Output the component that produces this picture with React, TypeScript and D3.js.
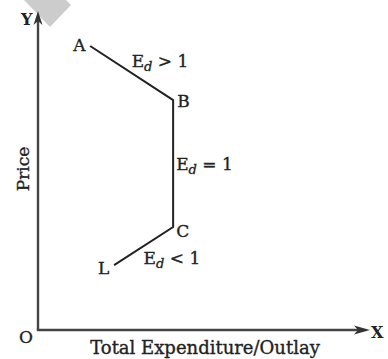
import React from "react";
import * as d3 from "d3";

const pointNames = ["A", "B", "C", "L"];
const xValues = [15.9, 41.2, 41.2, 23.2];
const yValues = [89.3, 72.3, 32.4, 20.4];
const segmentLabels = ["> 1", "= 1", "< 1"];
const xAxisTitle = "Total Expenditure/Outlay";
const yAxisTitle = "Price";

const W = 388;
const H = 359;
const FONT = "'DejaVu Serif', serif";
const INK = "#222";

export default function App() {
  const x = d3.scaleLinear().domain([0, 100]).range([38, 366]);
  const y = d3.scaleLinear().domain([0, 100]).range([330, 12]);
  const pts: [number, number][] = xValues.map((v, i) => [x(v), y(yValues[i])]);
  const line = d3.line();

  const [A, B, C, L] = pts;
  const labelOffsets = [
    [-17, 5],
    [4, 7],
    [3, 10],
    [-16, 9],
  ];
  const segPos = [
    [(A[0] + B[0]) / 2 + 0, (A[1] + B[1]) / 2 - 6],
    [B[0] + 3, (B[1] + C[1]) / 2 + 6],
    [(C[0] + L[0]) / 2 + 0, (C[1] + L[1]) / 2 + 18],
  ];
  const tx = x(100);
  const ty = y(100);
  const heavy = { stroke: INK, strokeWidth: 0.35 };

  return (
    <svg
      width={W}
      height={H}
      style={{ position: "absolute", left: 0, top: 0, background: "#fff" }}
      fontFamily={FONT}
    >
      <polygon points="24,0 66,0 71,5 50,27" fill="#ccc" />
      {/* axes */}
      <line x1={x(0)} y1={y(0)} x2={x(0)} y2={ty + 6} stroke="#444" strokeWidth={2.4} />
      <polygon
        points={`${x(0)},${ty - 1} ${x(0) - 4.5},${ty + 13} ${x(0)},${ty + 9} ${x(0) + 4.5},${ty + 13}`}
        fill="#333"
      />
      <line x1={x(0) - 1.2} y1={y(0)} x2={tx - 6} y2={y(0)} stroke="#444" strokeWidth={2.4} />
      <polygon
        points={`${tx + 4},${y(0)} ${tx - 12},${y(0) - 4.5} ${tx - 8},${y(0)} ${tx - 12},${y(0) + 4.5}`}
        fill="#333"
      />
      <text x={21} y={25} fontSize={16} fontWeight="bold" fill={INK}>Y</text>
      <text x={371} y={338} fontSize={16} fontWeight="bold" fill={INK}>X</text>
      <text x={19} y={343} fontSize={17} fill={INK} {...heavy}>O</text>
      <text x={205} y={354} fontSize={18} textAnchor="middle" fill={INK} {...heavy}>{xAxisTitle}</text>
      <text
        transform={`translate(29,169) rotate(-90)`}
        fontSize={17}
        textAnchor="middle"
        fill={INK}
        {...heavy}
      >
        {yAxisTitle}
      </text>
      <path d={line(pts) || ""} fill="none" stroke={INK} strokeWidth={2} />
      {pts.map((p, i) => (
        <text key={pointNames[i]} x={p[0] + labelOffsets[i][0]} y={p[1] + labelOffsets[i][1]} fontSize={17} fill={INK} {...heavy}>
          {pointNames[i]}
        </text>
      ))}
      {segPos.map((p, i) => (
        <text key={i} x={p[0]} y={p[1]} fontSize={17} fill={INK} {...heavy}>
          E
          <tspan fontStyle="italic" fontSize={13} dy={4}>d</tspan>
          <tspan dy={-4}>{" " + segmentLabels[i]}</tspan>
        </text>
      ))}
    </svg>
  );
}
